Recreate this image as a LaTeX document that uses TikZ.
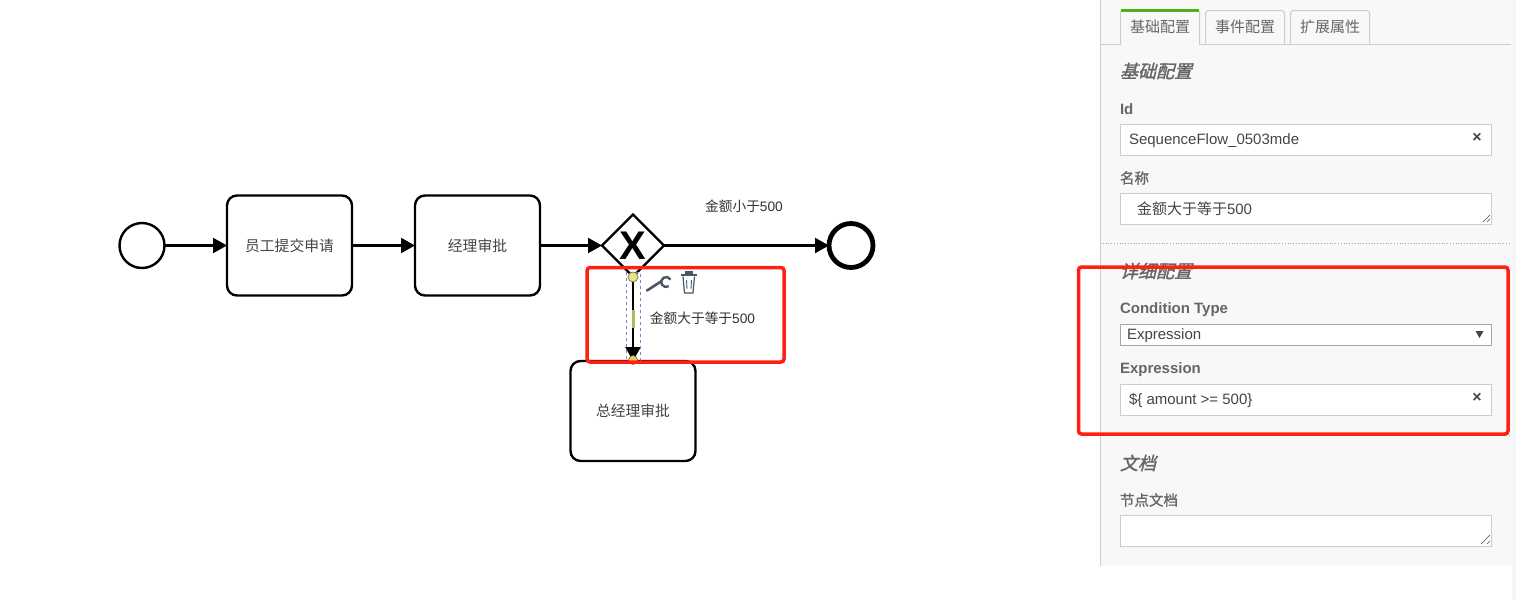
\documentclass[tikz,border=0pt]{standalone}
\usepackage{fontspec}
\usetikzlibrary{shapes.geometric,arrows.meta}
\setmainfont{Liberation Sans}
\newfontfamily\cjk{Noto Sans CJK SC}
\newfontfamily\cjkslant[FakeSlant=0.25,FakeBold=1.5]{Noto Sans CJK SC}
\newfontfamily\cjkmed[FakeBold=1]{Noto Sans CJK SC}
\definecolor{ink}{HTML}{444444}
\definecolor{lab}{HTML}{666666}
\definecolor{bd}{HTML}{CCCCCC}
\definecolor{panelbg}{HTML}{F8F8F8}
\definecolor{redbox}{HTML}{FF2015}
\definecolor{icon}{HTML}{4A5568}
\definecolor{handle}{HTML}{E6E67A}
\definecolor{tabgreen}{HTML}{52AE1C}
\tikzset{
  x=1pt,y=-1pt,
  every node/.style={inner sep=0pt,outer sep=0pt},
  task/.style={draw=black,line width=2.4pt,rounded corners=10pt,minimum width=125pt,minimum height=100pt,fill=white,font=\fontsize{14.8}{16}\selectfont\cjk,text=ink},
  flow/.style={draw=black,line width=2.2pt,-{Triangle[length=14pt,width=15pt]}},
  dlabel/.style={font=\fontsize{13.7}{16}\selectfont,text=black!80},
  ptext/.style={anchor=west,font=\fontsize{15}{17}\selectfont,text=ink},
  plabel/.style={anchor=west,font=\fontsize{15}{17}\selectfont\bfseries,text=lab},
  phead/.style={anchor=west,font=\fontsize{18}{20}\selectfont\cjkslant,text=lab},
  field/.style={draw=bd,line width=1pt,fill=white,minimum width=371pt,anchor=north west},
  tabbox/.style={draw=bd,line width=1pt,rounded corners=3pt,fill=panelbg},
  tabtext/.style={font=\fontsize{15}{17}\selectfont\cjk,text=lab},
  cross/.style={font=\fontsize{16}{17}\selectfont\bfseries,text=ink},
  redrect/.style={draw=redbox,line width=3.5pt,rounded corners=3pt},
  hand/.style={circle,draw=black!60,fill=handle,line width=.6pt,minimum size=10pt},
  resize/.style={draw=black!70,line width=.5pt}
}
\begin{document}
\begin{tikzpicture}
\useasboundingbox (0,0) rectangle (1516,600);
\fill[white] (0,0) rectangle (1516,600);
% panel
\fill[panelbg] (1100,0) rectangle (1512,566);
\fill[black!4] (1512,0) rectangle (1516,600);
\draw[bd,line width=1pt] (1100.5,0) -- (1100.5,566);
\draw[bd,line width=1pt] (1100,44.5) -- (1511,44.5);
% tabs
\draw[tabbox,fill=panelbg] (1120.5,44.5) -- (1120.5,9.5) -- (1199.5,9.5) -- (1199.5,44.5);
\fill[panelbg] (1121,44) rectangle (1199,46);
\draw[tabgreen,line width=3pt,rounded corners=1pt] (1121,10.5) -- (1199,10.5);
\draw[tabbox] (1205.5,43.5) -- (1205.5,10.5) -- (1284.5,10.5) -- (1284.5,43.5);
\draw[tabbox] (1290.5,43.5) -- (1290.5,10.5) -- (1369.5,10.5) -- (1369.5,43.5);
\node[tabtext] (tab1) at (1160,27) {基础配置};
\node[tabtext] (tab2) at (1245,27) {事件配置};
\node[tabtext] (tab3) at (1330,27) {扩展属性};
% section 1
\node[phead] (h1) at (1120,71) {基础配置};
\node[plabel] (lid) at (1120,109) {Id};
\node[field,minimum height=31pt] (fid) at (1120.5,124.5) {};
\node[ptext] (vid) at (1129,140.5) {SequenceFlow\_0503mde};
\node[cross] (xid) at (1477,138) {×};
\node[plabel,font=\fontsize{14.5}{16}\selectfont\cjkmed] (lname) at (1120,178) {名称};
\node[field,minimum height=31pt] (fname) at (1120.5,193.5) {};
\node[ptext] (vname) at (1137,209) {{\cjk 金额大于等于}500};
\draw[resize] (1487,222) -- (1490,219) (1483,222) -- (1490,215);
\draw[black!35,line width=.8pt,dotted] (1100,243.5) -- (1511,243.5);
% section 2
\node[phead] (h2) at (1120,271) {详细配置};
\node[plabel] (lct) at (1120,309.5) {Condition Type};
\node[field,draw=black!35,minimum height=21pt] (fct) at (1120.5,324.5) {};
\node[ptext] (vct) at (1127,335.5) {Expression};
\fill[ink] (1475.5,331) -- (1483.5,331) -- (1479.5,338) -- cycle;
\node[plabel] (lex) at (1120,369.5) {Expression};
\node[field,minimum height=31pt] (fex) at (1120.5,384.5) {};
\node[ptext] (vex) at (1129,400) {\$\{ amount >= 500\}};
\node[cross] (xex) at (1477,398) {×};
\draw[black!35,line width=.8pt,dotted] (1100,435.5) -- (1511,435.5);
% section 3
\node[phead] (h3) at (1120,463) {文档};
\node[plabel,font=\fontsize{14.5}{16}\selectfont\cjkmed] (ldoc) at (1120,500) {节点文档};
\node[field,minimum height=31pt] (fdoc) at (1120.5,515.5) {};
\draw[resize] (1487,544) -- (1490,541) (1481,544) -- (1490,535);
% diagram
\node[circle,draw=black,line width=2.4pt,minimum size=45pt,fill=white] (start) at (142,245.5) {};
\node[task] (t1) at (289.5,245.5) {员工提交申请};
\node[task] (t2) at (477.5,245.5) {经理审批};
\node[diamond,draw=black,line width=2.4pt,minimum width=62pt,minimum height=62pt,aspect=1,fill=white] (gw) at (633,245.5) {};
\node[font=\fontsize{40}{40}\selectfont\bfseries] (gwx) at (633,246) {X};
\node[circle,draw=black,line width=4.8pt,minimum size=44pt,fill=white] (end) at (851,245.5) {};
\node[task] (t3) at (633,411) {总经理审批};
\draw[flow] (start) -- (t1);
\draw[flow] (t1) -- (t2);
\draw[flow] (t2) -- (gw);
\draw[flow] (gw) -- (end);
\node[dlabel] (lsmall) at (744,206) {{\cjk 金额小于}500};
\draw[flow] (gw.south) -- (t3.north);
% selection of the flow
\draw[blue!50!black!50,line width=.5pt,dashed] (626,272) rectangle (640.5,360);
\fill[handle!80!black] (631.5,310) rectangle (634.5,328);
\node[hand] (ha) at (633,277) {};
\node[hand,fill=handle!70!orange,minimum size=9pt] (hb) at (633,360) {};
\node[dlabel] (llarge) at (702.5,318) {{\cjk 金额大于等于}500};
% wrench
\draw[icon,line width=2.6pt,line cap=round] (647,290.5) -- (661,281.5);
\draw[icon,line width=2.4pt] (670.5,279.5) arc[start angle=30,end angle=300,radius=5pt];
% trash
\draw[icon,line width=1.2pt] (683,276.5) -- (684.5,293) -- (693,293) -- (694.5,276.5);
\fill[icon] (681,273.5) rectangle (697,276);
\fill[icon] (685,271) rectangle (693,273.5);
\draw[icon,line width=.9pt] (686.5,280) -- (687,289) (691.5,280) -- (691,289);
% highlight boxes
\draw[redrect] (587,267.5) rectangle (784,362);
\draw[redrect] (1078.5,267) rectangle (1508,434);
\end{tikzpicture}
\end{document}
